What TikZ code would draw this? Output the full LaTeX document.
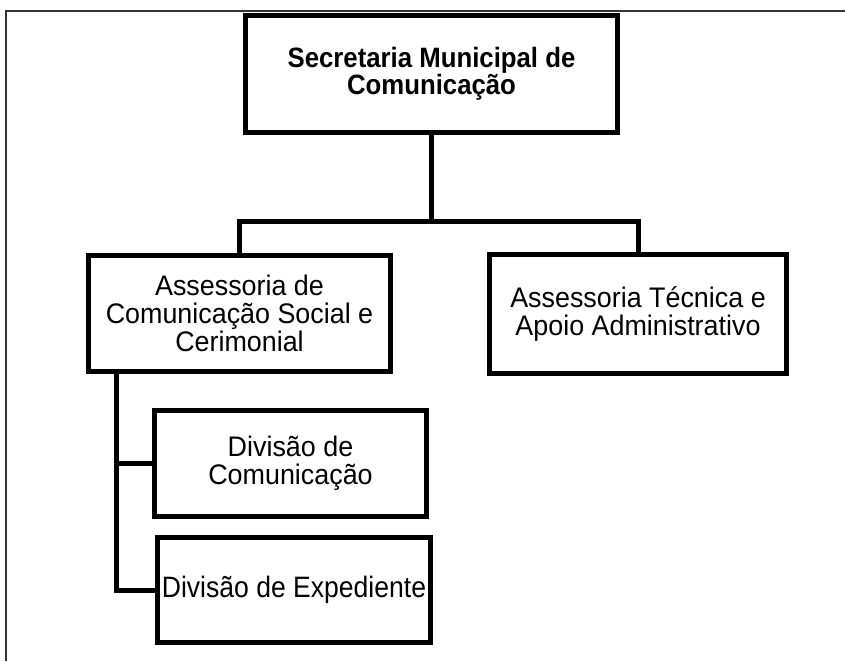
\documentclass[tikz,border=0pt]{standalone}
\usepackage{fontspec}
\setmainfont{Liberation Sans}
\newfontfamily\caixafont[FakeStretch=0.95]{Liberation Sans}
\newfontfamily\titulofont[FakeStretch=0.92]{Liberation Sans}
\newfontfamily\expfont[FakeStretch=0.9]{Liberation Sans}
\begin{document}
\begin{tikzpicture}[x=1pt,y=1pt,
	caixa/.style={shape=rectangle,draw,line width=5pt,align=center,inner sep=0pt,
		font=\caixafont\fontsize{28.3}{28}\selectfont},
	titulo/.style={caixa,font=\titulofont\fontsize{28}{23.5}\selectfont\bfseries},
	liga/.style={line width=5pt}]
	\useasboundingbox (0,0) rectangle (845,-661);
	\draw[line width=1.6pt,black!80] (6,-661) -- (6,-11) -- (845,-11);
	\node[titulo,minimum width=372pt,minimum height=117pt](a) at (431.5,-74) {Secretaria Municipal de\\Comunicação};
	\node[caixa,minimum width=302pt,minimum height=116pt](b) at (239.5,-313.5) {Assessoria de\\Comunicação Social e\\Cerimonial};
	\node[caixa,minimum width=297pt,minimum height=119pt](c) at (638,-314) {Assessoria Técnica e\\Apoio Administrativo};
	\node[caixa,minimum width=272pt,minimum height=106pt](d) at (290.5,-463.5) {Divisão de\\Comunicação};
	\node[caixa,minimum width=273pt,minimum height=105pt,font=\expfont\fontsize{29.5}{28}\selectfont](e) at (294,-590) {Divisão de Expediente};
	\coordinate (m) at (431.5,-221);
	\coordinate (t) at (116,-374);
	\draw[liga] (a.south) -- (m);
	\draw[liga] (b.north) |- (m) -| (c.north);
	\draw[liga] (t) |- (e.west);
	\draw[liga] (t |- d.west) -- (d.west);
\end{tikzpicture}
\end{document}
